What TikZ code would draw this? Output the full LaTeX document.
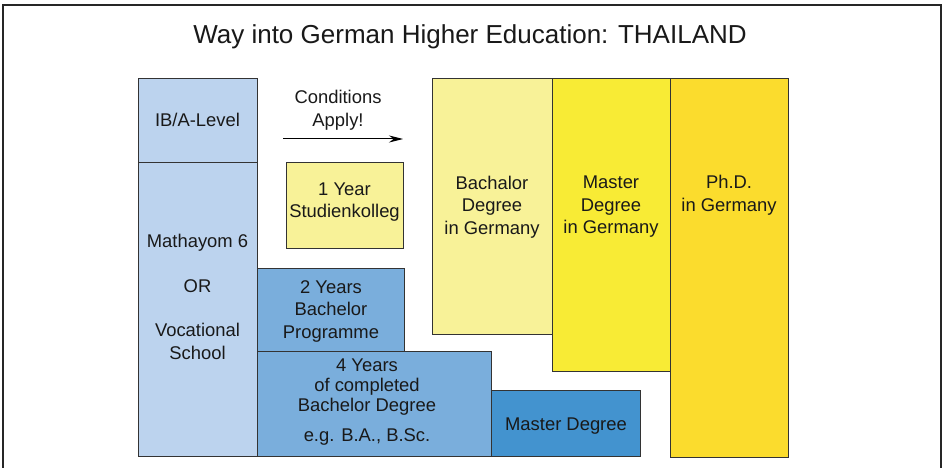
\documentclass[tikz,border=0pt]{standalone}
\usepackage{fontspec}
\setmainfont{Liberation Sans}
\usetikzlibrary{arrows.meta}
\definecolor{lblue}{HTML}{BCD3EE}
\definecolor{mblue}{HTML}{7AAEDC}
\definecolor{dblue}{HTML}{4393CF}
\definecolor{lyel}{HTML}{F8F298}
\definecolor{myel}{HTML}{F8EB35}
\definecolor{gold}{HTML}{FBDC2D}
\definecolor{edge}{HTML}{333333}
\tikzset{
  blk/.style={draw=edge, line width=1pt, anchor=north west, inner sep=0pt},
  txt/.style={align=center, inner sep=0pt, font=\fontsize{18.4}{22.5}\selectfont, text=black!90},
  frame/.style={draw=black!85, line width=1.8pt},
}
\begin{document}
\begin{tikzpicture}[x=1pt,y=-1pt]
\useasboundingbox (0,0) rectangle (942,468);
\fill[white] (0,0) rectangle (942,468);
\coordinate (fa) at (3,470);
\coordinate (fb) at (3,5);
\coordinate (fc) at (941,5);
\coordinate (fd) at (941,470);
\draw[frame] (fa) -- (fb) -- (fc) -- (fd);

\node[txt, font=\fontsize{26}{30}\selectfont] (title) at (470,37) {Way into German Higher Education: THAILAND};

% left column
\node[blk, fill=lblue, minimum width=119pt, minimum height=84pt] (ib) at (138,78) {};
\node[blk, fill=lblue, minimum width=119pt, minimum height=294pt] (math) at (138,162) {};
\node[txt] (tib) at (197.5,120) {IB/A-Level};
\node[txt] (tmath) at (197.5,297) {Mathayom 6\\[22pt]OR\\[22pt]Vocational\\School};

% Studienkolleg
\node[blk, fill=lyel, minimum width=117pt, minimum height=86pt] (stk) at (286,162) {};
\node[txt] (tstk) at (344.5,202) {1 Year\\Studienkolleg};

% conditions
\node[txt] (cond) at (338,110) {Conditions\\Apply!};
\coordinate (a1) at (283,139);
\coordinate (a2) at (403,139);
\draw[line width=1pt, -{Stealth[length=14pt,width=7pt]}] (a1) -- (a2);

% blue boxes
\node[blk, fill=mblue, minimum width=147pt, minimum height=83pt] (two) at (257,268) {};
\node[txt] (ttwo) at (331,311) {2 Years\\Bachelor\\Programme};
\node[blk, fill=mblue, minimum width=234pt, minimum height=105pt] (four) at (257,351) {};
\node[txt, font=\fontsize{18.4}{20}\selectfont] (tfour) at (367,387) {4 Years\\of completed\\Bachelor Degree};
\node[txt] (teg) at (367,437) {e.g. B.A., B.Sc.};
\node[blk, fill=dblue, minimum width=149pt, minimum height=66pt] (mast) at (491,390) {};
\node[txt] (tmast) at (566,426) {Master Degree};

% yellow columns
\node[blk, fill=lyel, minimum width=120pt, minimum height=256pt] (bach) at (432,78) {};
\node[txt] (tbach) at (492,207) {Bachalor\\Degree\\in Germany};
\node[blk, fill=myel, minimum width=118pt, minimum height=293pt] (mg) at (552,78) {};
\node[txt] (tmg) at (611,207) {Master\\Degree\\in Germany};
\node[blk, fill=gold, minimum width=118pt, minimum height=379pt] (phd) at (670,78) {};
\node[txt] (tphd) at (729,195) {Ph.D.\\in Germany};
\end{tikzpicture}
\end{document}
